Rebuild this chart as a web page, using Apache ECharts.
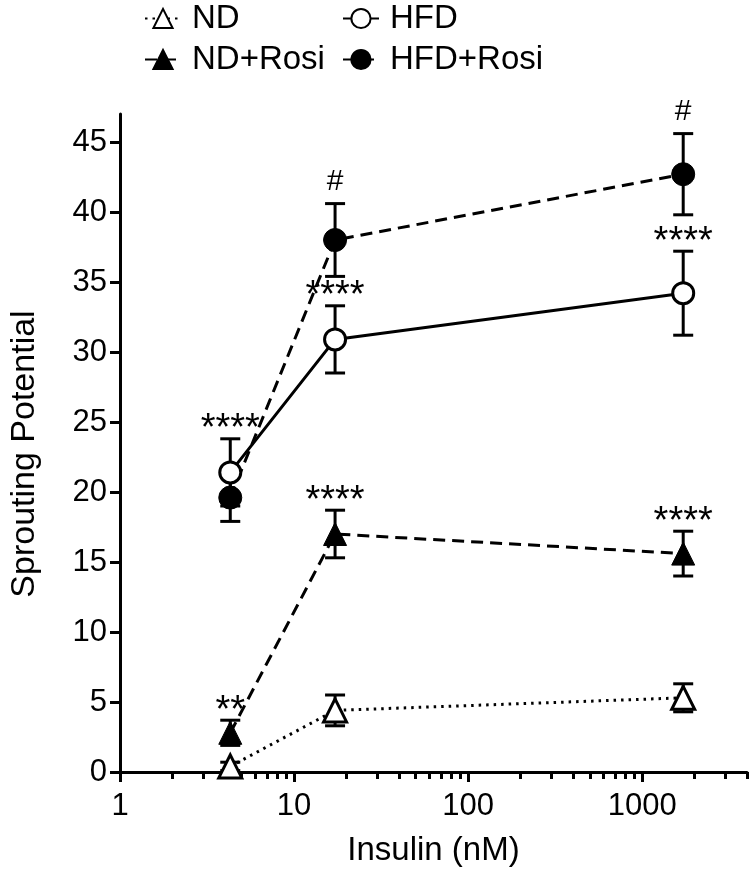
<!DOCTYPE html>
<html><head><meta charset="utf-8">
<script src="https://cdn.jsdelivr.net/npm/echarts@6/dist/echarts.min.js"></script>
<style>html,body{margin:0;padding:0;background:#fff}#c{width:750px;height:884px}</style>
</head><body><div id="c"></div>
<script>
// ---- data ----
const insulin = [4.3, 17.2, 1720];
const ndMean = [0.4, 4.4, 5.3];
const ndErr = [0.3, 1.1, 1.0];
const ndRosiMean = [2.8, 17.0, 15.6];
const ndRosiErr = [0.9, 1.7, 1.6];
const hfdMean = [21.4, 30.9, 34.2];
const hfdErr = [2.4, 2.4, 3.0];
const hfdRosiMean = [19.6, 38.0, 42.7];
const hfdRosiErr = [1.7, 2.6, 2.9];
const ndRosiSig = ['**', '****', '****'];
const hfdSig = ['****', '****', '****'];
const hfdRosiSig = ['', '#', '#'];
const xMajorTicks = [1, 10, 100, 1000];
const xMinorTicks = [2, 3, 4, 5, 6, 7, 8, 9, 20, 30, 40, 50, 60, 70, 80, 90, 200, 300, 400, 500, 600, 700, 800, 900, 2000, 3000, 4000];
const yTicks = [0, 5, 10, 15, 20, 25, 30, 35, 40, 45];

// ---- chart ----
const FONT = "'Liberation Sans', Arial, Helvetica, sans-serif";
const chart = echarts.init(document.getElementById('c'), null, {renderer: 'canvas'});

function pts(means) { return insulin.map((x, i) => [x, means[i]]); }

function errSeries(means, errs, z) {
  return {
    type: 'custom', xAxisIndex: 0, yAxisIndex: 0, clip: false, z: z, silent: true,
    data: insulin.map((x, i) => [x, means[i] - errs[i], means[i] + errs[i]]),
    encode: {x: 0, y: [1, 2]},
    renderItem: function (params, api) {
      const lo = api.coord([api.value(0), api.value(1)]);
      const hi = api.coord([api.value(0), api.value(2)]);
      const hw = 10;
      const st = {stroke: '#000', lineWidth: 3};
      return {type: 'group', children: [
        {type: 'line', shape: {x1: lo[0], y1: lo[1], x2: hi[0], y2: hi[1]}, style: st},
        {type: 'line', shape: {x1: lo[0] - hw, y1: lo[1], x2: lo[0] + hw, y2: lo[1]}, style: st},
        {type: 'line', shape: {x1: hi[0] - hw, y1: hi[1], x2: hi[0] + hw, y2: hi[1]}, style: st}
      ]};
    }
  };
}

function sigSeries(means, errs, labels) {
  return {
    type: 'custom', xAxisIndex: 0, yAxisIndex: 0, clip: false, z: 20, silent: true,
    data: insulin.map((x, i) => [x, means[i] + errs[i]]),
    encode: {x: 0, y: 1},
    renderItem: function (params, api) {
      const p = api.coord([api.value(0), api.value(1)]);
      const t = labels[params.dataIndex];
      const isHash = t.indexOf('#') >= 0;
      const off = isHash ? 22 : 9;
      return {type: 'text', x: p[0], y: p[1] - off,
        style: {text: t, fill: '#000', font: (isHash ? '30px ' : '38px ') + FONT, align: 'center', verticalAlign: 'middle'}};
    }
  };
}

const lineBase = {type: 'line', xAxisIndex: 0, yAxisIndex: 0, showSymbol: true};

const option = {
  animation: false,
  backgroundColor: '#fff',
  grid: {left: 108, right: 3, top: 114, bottom: 112, containLabel: false},
  legend: [
    {data: ['ND'], left: 142, top: 0},
    {data: ['HFD'], left: 340, top: 0},
    {data: ['ND+Rosi'], left: 142, top: 41},
    {data: ['HFD+Rosi'], left: 340, top: 41}
  ].map(l => Object.assign(l, {
    orient: 'horizontal', itemWidth: 36, itemHeight: 24, selectedMode: false, padding: 2,
    textStyle: {fontSize: 33, color: '#000', fontFamily: FONT, padding: [0, 0, 0, 6]}
  })),
  xAxis: [{
    type: 'log', logBase: 10, min: 1, max: 4000, gridIndex: 0, position: 'bottom',
    name: 'Insulin (nM)', nameLocation: 'middle', nameGap: 62,
    nameTextStyle: {fontSize: 33, color: '#000', fontFamily: FONT},
    axisLine: {show: true, lineStyle: {color: '#000', width: 3}},
    axisTick: {show: true, customValues: xMajorTicks, length: 10, lineStyle: {color: '#000', width: 3}},
    axisLabel: {show: true, customValues: xMajorTicks, fontSize: 31, color: '#000', fontFamily: FONT, margin: 19,
      formatter: v => String(Math.round(v))},
    splitLine: {show: false}, minorTick: {show: false}
  }, {
    type: 'log', logBase: 10, min: 1, max: 4000, gridIndex: 0, position: 'bottom',
    axisLine: {show: false},
    axisTick: {show: true, customValues: xMinorTicks, length: 7, lineStyle: {color: '#000', width: 3}},
    axisLabel: {show: false},
    splitLine: {show: false}
  }],
  yAxis: [{
    type: 'value', min: 0, max: 47, interval: 5,
    name: 'Sprouting Potential', nameLocation: 'middle', nameGap: 78,
    nameTextStyle: {fontSize: 34, color: '#000', fontFamily: FONT, padding: [0, 22, 0, 0]},
    axisLine: {show: true, lineStyle: {color: '#000', width: 3}},
    axisTick: {show: true, customValues: yTicks, length: 10, lineStyle: {color: '#000', width: 3}},
    axisLabel: {show: true, customValues: yTicks, fontSize: 31, color: '#000', fontFamily: FONT, margin: 13},
    splitLine: {show: false}
  }],
  series: [
    errSeries(ndMean, ndErr, 2),
    errSeries(ndRosiMean, ndRosiErr, 2),
    errSeries(hfdRosiMean, hfdRosiErr, 2),
    errSeries(hfdMean, hfdErr, 2),
    Object.assign({}, lineBase, {
      name: 'ND', data: pts(ndMean), z: 3,
      symbol: 'triangle', symbolSize: 23,
      lineStyle: {color: '#000', width: 3, type: [2.5, 5]},
      itemStyle: {color: '#fff', borderColor: '#000', borderWidth: 3}
    }),
    Object.assign({}, lineBase, {
      name: 'ND+Rosi', data: pts(ndRosiMean), z: 4,
      symbol: 'triangle', symbolSize: 23,
      lineStyle: {color: '#000', width: 3, type: [12, 7]},
      itemStyle: {color: '#000', borderColor: '#000', borderWidth: 1}
    }),
    Object.assign({}, lineBase, {
      name: 'HFD+Rosi', data: pts(hfdRosiMean), z: 5,
      symbol: 'circle', symbolSize: 23,
      lineStyle: {color: '#000', width: 3, type: [12, 7]},
      itemStyle: {color: '#000', borderColor: '#000', borderWidth: 1}
    }),
    Object.assign({}, lineBase, {
      name: 'HFD', data: pts(hfdMean), z: 6,
      symbol: 'circle', symbolSize: 21,
      lineStyle: {color: '#000', width: 3, type: 'solid'},
      itemStyle: {color: '#fff', borderColor: '#000', borderWidth: 3}
    }),
    sigSeries(ndRosiMean, ndRosiErr, ndRosiSig),
    sigSeries(hfdMean, hfdErr, hfdSig),
    sigSeries(hfdRosiMean, hfdRosiErr, hfdRosiSig)
  ]
};
chart.setOption(option);
</script>
</body></html>
